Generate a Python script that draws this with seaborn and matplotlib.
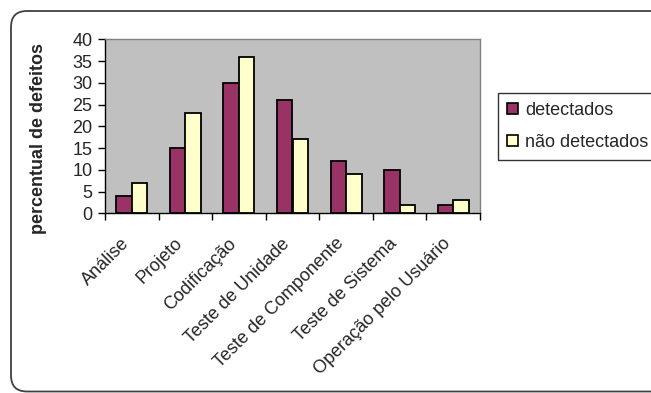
import numpy as np
import pandas as pd
import matplotlib
matplotlib.use("Agg")
import matplotlib.pyplot as plt
from matplotlib.patches import FancyBboxPatch, Patch
from matplotlib.transforms import IdentityTransform, ScaledTranslation
import seaborn as sns

# Fases do desenvolvimento e percentual de defeitos por fase
fases = ["Análise", "Projeto", "Codificação", "Teste de Unidade",
         "Teste de Componente", "Teste de Sistema", "Operação pelo Usuário"]
detectados = [4, 15, 30, 26, 12, 10, 2]
nao_detectados = [7, 23, 36, 17, 9, 2, 3]
series = ["detectados", "não detectados"]
y_ticks = [0, 5, 10, 15, 20, 25, 30, 35, 40]

df = pd.DataFrame({
    "fase": fases * 2,
    "valor": detectados + nao_detectados,
    "serie": [series[0]] * len(fases) + [series[1]] * len(fases),
})

sns.set_style("white")
plt.rcParams["font.family"] = ["Liberation Sans", "DejaVu Sans"]

cores = {"detectados": "#993366", "não detectados": "#FFFFCC"}
FS = 13

fig = plt.figure(figsize=(6.51, 3.93), dpi=100)
ax = fig.add_axes([105 / 651, 1 - 213.3 / 393, 375 / 651, 174 / 393])
ax.set_facecolor("#C0C0C0")

sns.barplot(data=df, x="fase", y="valor", hue="serie", order=fases,
            hue_order=series, palette=cores, width=0.58, gap=0,
            edgecolor="black", linewidth=1.3, saturation=1,
            legend=False, ax=ax)

ax.set_xlim(-0.5, len(fases) - 0.5)
ax.set_ylim(0, 40)
ax.set_yticks(y_ticks)
ax.set_yticklabels([str(v) for v in y_ticks], fontsize=FS)
ax.tick_params(axis="y", direction="out", length=5, width=1, color="black",
               left=True, pad=4)

# rótulos centrados nas categorias, marcas nos limites entre elas
ax.set_xticks(range(len(fases)))
ax.set_xticklabels(fases, fontsize=FS, rotation=45, ha="right",
                   va="center", rotation_mode="anchor")
ax.tick_params(axis="x", which="major", length=0, pad=20)
desloc = ScaledTranslation(-5 / 100, 0, fig.dpi_scale_trans)
for rot in ax.get_xticklabels():
    rot.set_transform(rot.get_transform() + desloc)
ax.set_xticks(np.arange(-0.5, len(fases), 1.0), minor=True)
ax.tick_params(axis="x", which="minor", direction="out", length=5,
               width=1, color="black", bottom=True)

ax.set_xlabel("")
ax.set_ylabel("percentual de defeitos", fontsize=FS, fontweight="bold")
ax.yaxis.set_label_coords(-0.155, 0.43)

for lado in ["left", "bottom"]:
    ax.spines[lado].set_color("black")
    ax.spines[lado].set_linewidth(1)
for lado in ["top", "right"]:
    ax.spines[lado].set_color("#808080")
    ax.spines[lado].set_linewidth(1)

handles = [Patch(facecolor=cores[s], edgecolor="black", linewidth=1.2, label=s)
           for s in series]
leg = fig.legend(handles=handles, loc="upper left",
                 bbox_to_anchor=(498 / 651, 1 - 92.7 / 393),
                 frameon=True, fancybox=False, fontsize=FS,
                 handlelength=0.6, handleheight=0.6, handletextpad=0.4,
                 borderpad=0.5, labelspacing=0.85, borderaxespad=0)
leg.get_frame().set_edgecolor("black")
leg.get_frame().set_linewidth(1)

# moldura arredondada do gráfico
moldura = FancyBboxPatch((11, 1.5), 660, 380.5,
                         boxstyle="round,pad=0,rounding_size=16",
                         transform=IdentityTransform(), facecolor="none",
                         edgecolor="#404040", linewidth=1.3)
fig.patches.append(moldura)

fig.savefig("out.png", dpi=100)
